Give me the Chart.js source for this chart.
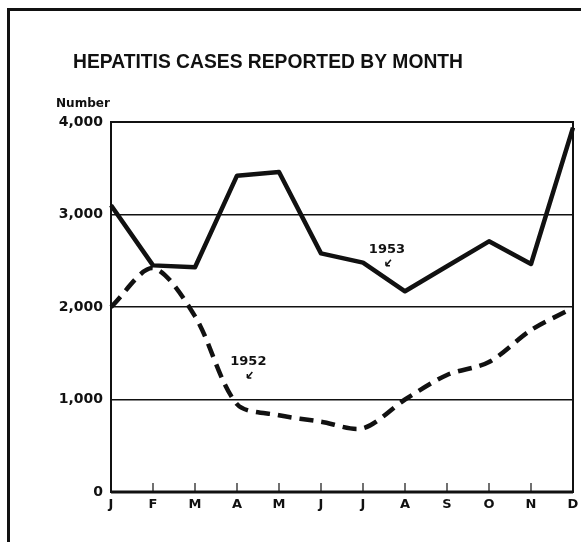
<!DOCTYPE html>
<html>
<head>
<meta charset="utf-8">
<script src="https://cdn.jsdelivr.net/npm/chart.js@4"></script>
<style>
  html, body { margin: 0; padding: 0; background: #fff; }
  #wrap { width: 581px; height: 542px; position: relative; }
</style>
</head>
<body>
<div id="wrap"><canvas id="c" width="581" height="542"></canvas></div>
<script>
// données
const months = ['J', 'F', 'M', 'A', 'M', 'J', 'J', 'A', 'S', 'O', 'N', 'D'];
const cases1953 = [3100, 2450, 2430, 3420, 3460, 2580, 2480, 2170, 2440, 2710, 2465, 3940];
const cases1952 = [2000, 2420, 1900, 950, 830, 760, 690, 1000, 1265, 1405, 1750, 1990];
const yTicks = [0, 1000, 2000, 3000, 4000];
const titleText = 'HEPATITIS CASES REPORTED BY MONTH';

const ink = '#111';

// cadre, titre, "Number", petits traits et étiquettes des courbes
const decor = {
    id: 'decor',
    beforeDraw(chart) {
        const ctx = chart.ctx;
        ctx.save();
        ctx.fillStyle = '#fff';
        ctx.fillRect(0, 0, chart.width, chart.height);
        ctx.strokeStyle = ink;
        ctx.lineWidth = 3;
        ctx.beginPath();
        ctx.moveTo(8.5, chart.height);
        ctx.lineTo(8.5, 9.5);
        ctx.lineTo(chart.width, 9.5);
        ctx.stroke();

        ctx.fillStyle = ink;
        ctx.font = 'bold 20px "Liberation Sans"';
        ctx.textAlign = 'center';
        ctx.textBaseline = 'middle';
        ctx.fillText(titleText, 268, 62, 390);

        ctx.font = 'bold 12.5px "DejaVu Sans"';
        ctx.textAlign = 'left';
        ctx.fillText('Number', 56, 104, 54);
        ctx.restore();
    },
    afterDatasetsDraw(chart) {
        const ctx = chart.ctx;
        const a = chart.chartArea;
        const x = chart.scales.x, y = chart.scales.y;
        ctx.save();
        ctx.strokeStyle = ink;
        ctx.lineWidth = 2;
        ctx.strokeRect(a.left, a.top, a.right - a.left, a.bottom - a.top);
        ctx.lineWidth = 3;
        ctx.beginPath();
        ctx.moveTo(a.left, a.bottom);
        ctx.lineTo(a.right, a.bottom);
        ctx.stroke();

        // ticks vers l'intérieur
        ctx.lineWidth = 1.2;
        for (let i = 1; i < months.length - 1; i++) {
            const px = x.getPixelForValue(i);
            ctx.beginPath();
            ctx.moveTo(px, a.bottom);
            ctx.lineTo(px, a.bottom - 9);
            ctx.stroke();
        }

        // étiquettes 1953 / 1952
        ctx.fillStyle = ink;
        ctx.font = 'bold 13px "DejaVu Sans"';
        ctx.textAlign = 'center';
        ctx.textBaseline = 'middle';
        const labels = [
            { text: '1953', xi: 6.57, yv: 2620 },
            { text: '1952', xi: 3.27, yv: 1405 }
        ];
        labels.forEach(l => {
            const lx = x.getPixelForValue(l.xi);
            const ly = y.getPixelForValue(l.yv);
            ctx.fillText(l.text, lx, ly);
            // flèche
            const sx = lx + 4, sy = ly + 10, ex = lx - 1, ey = ly + 16;
            ctx.lineWidth = 1.5;
            ctx.beginPath();
            ctx.moveTo(sx, sy);
            ctx.lineTo(ex, ey);
            ctx.moveTo(ex, ey);
            ctx.lineTo(ex + 4, ey);
            ctx.moveTo(ex, ey);
            ctx.lineTo(ex, ey - 4);
            ctx.stroke();
        });
        ctx.restore();
    }
};

new Chart(document.getElementById('c'), {
    type: 'line',
    data: {
        labels: months,
        datasets: [
            {
                label: '1953',
                data: cases1953,
                borderColor: ink,
                borderWidth: 4.5,
                pointRadius: 0,
                tension: 0,
                borderJoinStyle: 'round'
            },
            {
                label: '1952',
                data: cases1952,
                borderColor: ink,
                borderWidth: 4.5,
                borderDash: [14, 8],
                pointRadius: 0,
                tension: 0.3
            }
        ]
    },
    options: {
        responsive: false,
        devicePixelRatio: 1,
        animation: false,
        layout: { padding: { left: 0, right: 8, top: 122, bottom: 18 } },
        plugins: {
            legend: { display: false },
            tooltip: { enabled: false },
            title: { display: false }
        },
        scales: {
            x: {
                offset: false,
                grid: { display: false },
                border: { display: false },
                ticks: {
                    color: ink,
                    padding: -3,
                    maxRotation: 0,
                    autoSkip: false,
                    font: { family: '"DejaVu Sans"', size: 13, weight: 'bold' }
                },
                afterFit(s) { s.height = 32; }
            },
            y: {
                min: 0,
                max: 4000,
                afterBuildTicks(s) { s.ticks = yTicks.map(v => ({ value: v })); },
                grid: { color: ink, lineWidth: 1.5, drawTicks: false },
                border: { display: false },
                ticks: {
                    color: ink,
                    padding: 8,
                    font: { family: '"DejaVu Sans"', size: 14, weight: 'bold' },
                    callback: v => v.toLocaleString('en-US')
                },
                afterFit(s) { s.width = 111; }
            }
        }
    },
    plugins: [decor]
});
</script>
</body>
</html>
